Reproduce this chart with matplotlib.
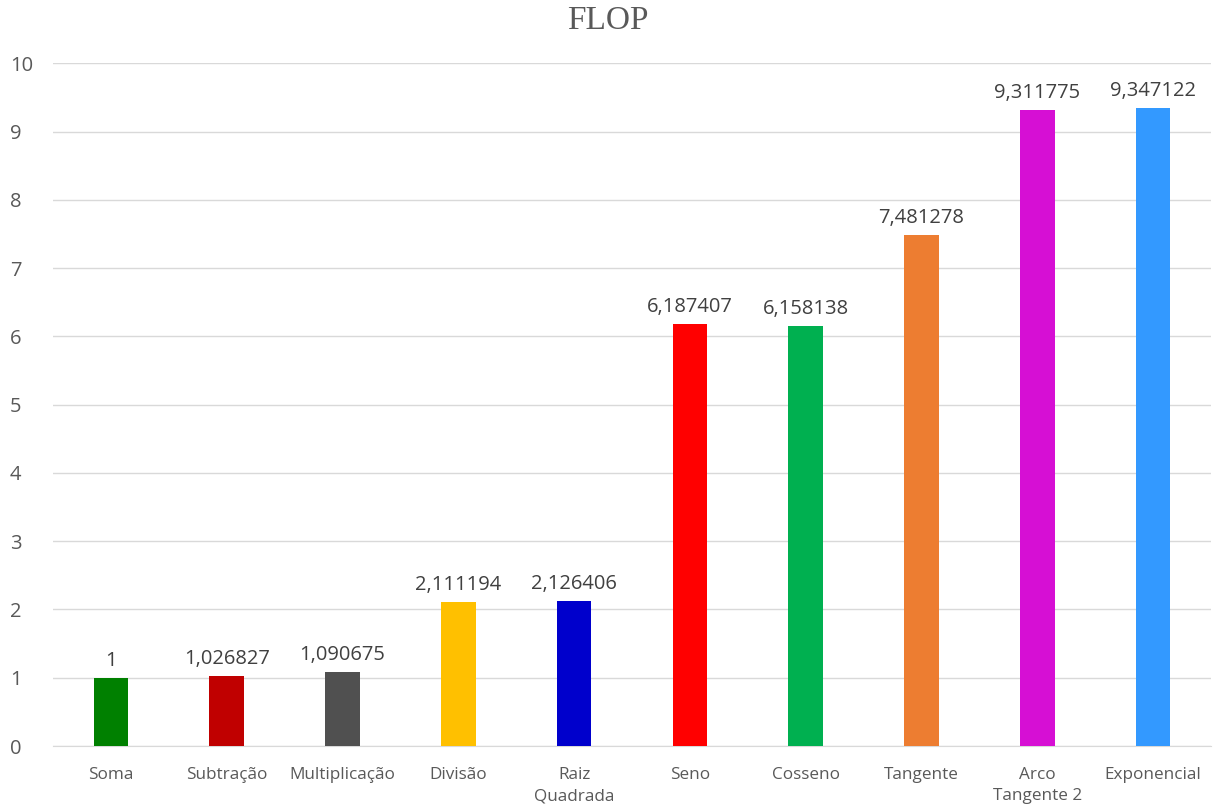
import matplotlib
matplotlib.use("Agg")
import matplotlib.pyplot as plt

categories = ["Soma", "Subtração", "Multiplicação", "Divisão", "Raiz\nQuadrada",
              "Seno", "Cosseno", "Tangente", "Arco\nTangente 2", "Exponencial"]
values = [1, 1.026827, 1.090675, 2.111194, 2.126406,
          6.187407, 6.158138, 7.481278, 9.311775, 9.347122]
labels = ["1", "1,026827", "1,090675", "2,111194", "2,126406",
          "6,187407", "6,158138", "7,481278", "9,311775", "9,347122"]
colors = ["#008000", "#C00000", "#505050", "#FFC000", "#0000CC",
          "#FF0000", "#00B050", "#ED7D31", "#D60FD4", "#3399FF"]
yticks = list(range(0, 11))

plt.rcParams['font.family'] = ['Open Sans', 'DejaVu Sans']
fig = plt.figure(figsize=(12.16, 8.08), dpi=100)
ax = fig.add_axes([0.0436, 0.0767, 0.9523, 0.845])

x = list(range(len(categories)))
ax.bar(x, values, width=0.30, color=colors, zorder=3)
for xi, v, lab in zip(x, values, labels):
    ax.text(xi, v + 0.1, lab, ha='center', va='bottom', fontsize=14.5, color='#404040')

ax.set_xlim(-0.5, len(categories) - 0.5)
ax.set_ylim(0, 10)
ax.set_yticks(yticks)
ax.set_yticklabels([str(t) for t in yticks], fontsize=14.5, color='#595959')
ax.set_xticks(x)
ax.set_xticklabels(categories, fontsize=12.3, color='#595959', linespacing=1.45, va='top')
ax.tick_params(axis='both', length=0)
ax.tick_params(axis='x', pad=15)
ax.tick_params(axis='y', pad=31)
for lab in ax.get_yticklabels():
    lab.set_horizontalalignment('left')
ax.grid(axis='y', color='#D9D9D9', linewidth=1, zorder=0)
for s in ['top', 'right', 'left']:
    ax.spines[s].set_visible(False)
ax.spines['bottom'].set_color('#D9D9D9')

fig.text(0.5, 0.974, "FLOP", ha='center', va='center', fontsize=24,
         family='Liberation Serif', color='#595959')

fig.savefig("out.png", dpi=100)
